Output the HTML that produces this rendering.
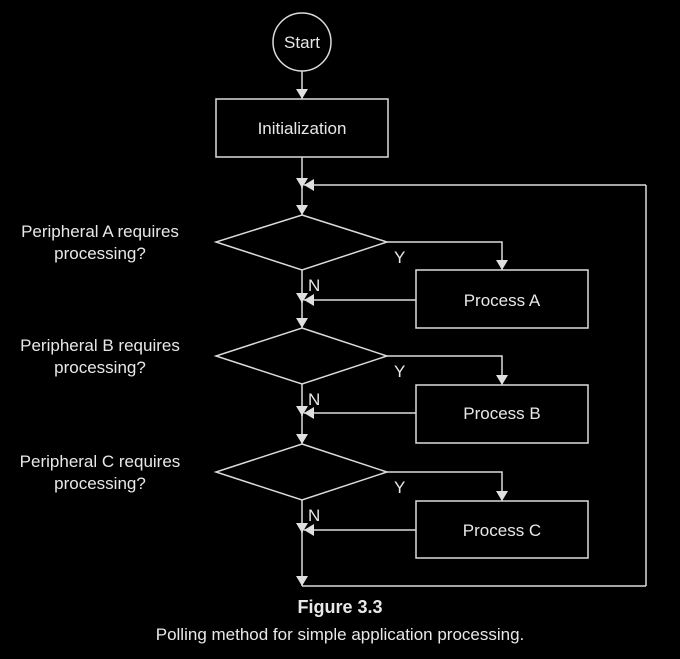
<!DOCTYPE html>
<html><head><style>
html,body{margin:0;padding:0;background:#000;}
svg{display:block}
text{font-family:"Liberation Sans",Arial,sans-serif;fill:#e8e8e8}
</style></head><body>
<svg width="680" height="659" viewBox="0 0 680 659" xmlns="http://www.w3.org/2000/svg">
<defs>
<marker id="a" markerWidth="10" markerHeight="12" refX="10" refY="6" orient="auto" markerUnits="userSpaceOnUse">
<path d="M0,0 L10,6 L0,12 Z" fill="#e0e0e0"/>
</marker>
</defs>
<g stroke="#dcdcdc" stroke-width="1.5" fill="none">
<circle cx="302" cy="42" r="29"/>
<line x1="302" y1="71" x2="302" y2="99" marker-end="url(#a)"/>
<rect x="216" y="99" width="172" height="58"/>
<line x1="302" y1="157" x2="302" y2="188" marker-end="url(#a)"/>
<line x1="646" y1="185" x2="304" y2="185" marker-end="url(#a)"/>
<line x1="302" y1="185" x2="302" y2="215" marker-end="url(#a)"/>
<line x1="646" y1="185" x2="646" y2="586"/>
<line x1="302" y1="586" x2="646" y2="586"/>

<polygon points="302,215 387,242 302,270 216,242"/>
<polyline points="387,242 502,242 502,270" marker-end="url(#a)"/>
<rect x="416" y="270" width="172" height="58"/>
<line x1="302" y1="270" x2="302" y2="303" marker-end="url(#a)"/>
<line x1="416" y1="300" x2="304" y2="300" marker-end="url(#a)"/>
<line x1="302" y1="300" x2="302" y2="328" marker-end="url(#a)"/>

<polygon points="302,328 387,356 302,384 216,356"/>
<polyline points="387,356 502,356 502,385" marker-end="url(#a)"/>
<rect x="416" y="385" width="172" height="58"/>
<line x1="302" y1="384" x2="302" y2="416" marker-end="url(#a)"/>
<line x1="416" y1="413" x2="304" y2="413" marker-end="url(#a)"/>
<line x1="302" y1="413" x2="302" y2="444" marker-end="url(#a)"/>

<polygon points="302,444 387,472 302,500 216,472"/>
<polyline points="387,472 502,472 502,501" marker-end="url(#a)"/>
<rect x="416" y="501" width="172" height="57"/>
<line x1="302" y1="500" x2="302" y2="533" marker-end="url(#a)"/>
<line x1="416" y1="530" x2="304" y2="530" marker-end="url(#a)"/>
<line x1="302" y1="530" x2="302" y2="586" marker-end="url(#a)"/>
</g>
<g font-size="17">
<text x="302" y="48" text-anchor="middle">Start</text>
<text x="302" y="134" text-anchor="middle">Initialization</text>
<text x="502" y="306" text-anchor="middle">Process A</text>
<text x="502" y="419" text-anchor="middle">Process B</text>
<text x="502" y="536" text-anchor="middle">Process C</text>
<text x="394" y="263">Y</text>
<text x="394" y="377">Y</text>
<text x="394" y="493">Y</text>
<text x="308" y="291">N</text>
<text x="308" y="405">N</text>
<text x="308" y="521">N</text>
<text x="100" y="237" text-anchor="middle">Peripheral A requires</text>
<text x="100" y="259" text-anchor="middle">processing?</text>
<text x="100" y="351" text-anchor="middle">Peripheral B requires</text>
<text x="100" y="373" text-anchor="middle">processing?</text>
<text x="100" y="467" text-anchor="middle">Peripheral C requires</text>
<text x="100" y="489" text-anchor="middle">processing?</text>
</g>
<text x="340" y="613" text-anchor="middle" font-size="18" font-weight="bold">Figure 3.3</text>
<text x="340" y="640" text-anchor="middle" font-size="17">Polling method for simple application processing.</text>
</svg>
</body></html>
